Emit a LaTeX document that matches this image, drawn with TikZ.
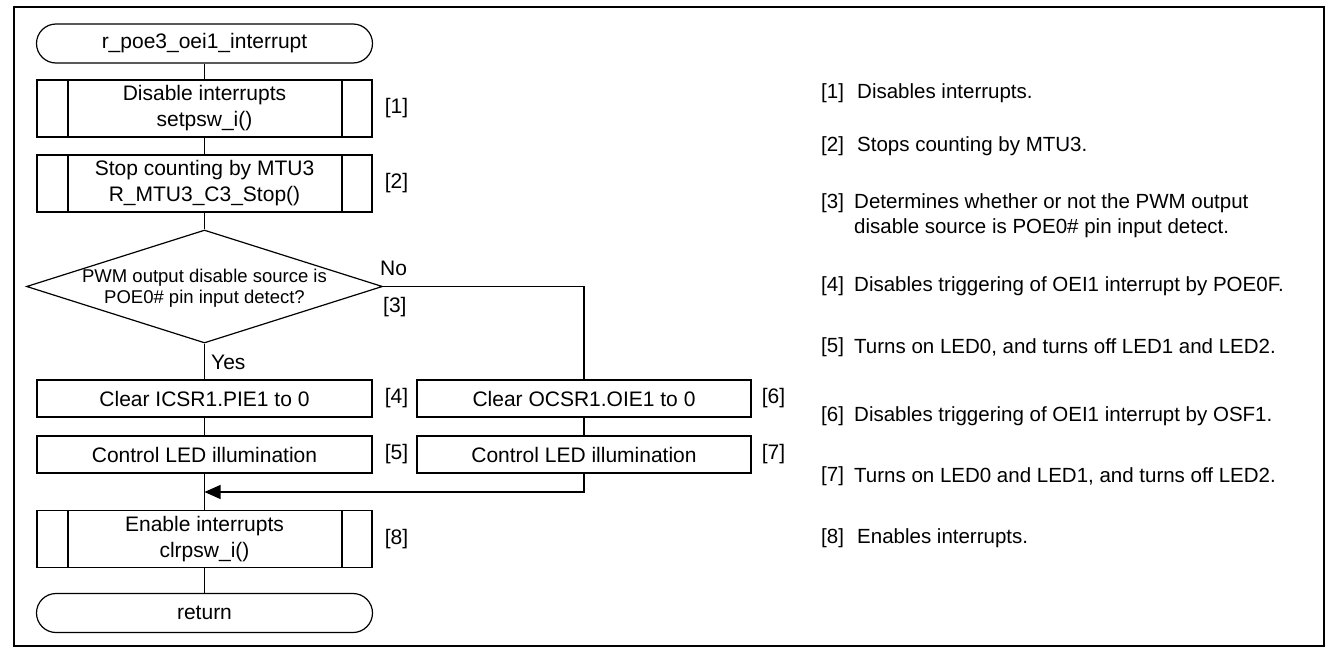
\documentclass[tikz,border=0pt]{standalone}
\usepackage{fontspec}
\setmainfont{Liberation Sans}
\usetikzlibrary{arrows.meta,positioning,shapes.geometric}

\begin{document}
\begin{tikzpicture}[x=1pt,y=-1pt,font=\fontsize{21}{26}\selectfont,
  box/.style={draw,line width=1.2pt,minimum width=335pt,minimum height=37pt,inner sep=0,align=center},
  sub/.style={box,minimum height=57pt,path picture={
      \draw[line width=1.2pt] ([xshift=31pt]path picture bounding box.north west)--([xshift=31pt]path picture bounding box.south west);
      \draw[line width=1.2pt] ([xshift=-30pt]path picture bounding box.north east)--([xshift=-30pt]path picture bounding box.south east);}},
  term/.style={draw,line width=1.2pt,minimum width=336pt,minimum height=39pt,rounded corners=19.5pt,inner sep=0},
  dec/.style={draw,diamond,line width=1.2pt,minimum width=356pt,minimum height=113pt,inner sep=0},
  num/.style={inner sep=0,anchor=west},
  note/.style={inner sep=0,anchor=west,align=left,font=\fontsize{20.5}{25}\selectfont},
  line/.style={line width=1.2pt},
  arr/.style={line,-{Triangle[length=16pt,width=14pt]}}]

\useasboundingbox (0,0) rectangle (1326,648);
\draw[line width=2pt] (14,7) rectangle (1323.5,645.5);

% ---- main column
\node[term] (t0) at (204.5,43.5) {r\_poe3\_oei1\_interrupt};
\node[sub]  (b1) at (204.5,108.5) {Disable interrupts\\setpsw\_i()};
\node[sub]  (b2) at (204.5,183.5) {Stop counting by MTU3\\R\_MTU3\_C3\_Stop()};
\node[dec]  (d3) at (204.5,286.5) {};
\node[font=\fontsize{18.5}{21}\selectfont,align=center] (d3t) at (204.5,288) {PWM output disable source is\\POE0\# pin input detect?};
\node[box]  (b4) at (204.5,398.5) {Clear ICSR1.PIE1 to 0};
\node[box]  (b5) at (204.5,454.5) {Control LED illumination};
\coordinate (mj) at (204.5,492);
\node[sub]  (b8) at (204.5,539) {Enable interrupts\\clrpsw\_i()};
\node[term] (t9) at (204.5,613) {return};

% ---- No branch
\node[box,minimum width=334pt] (b6) at (584,398.5) {Clear OCSR1.OIE1 to 0};
\node[box,minimum width=334pt] (b7) at (584,454.5) {Control LED illumination};

% ---- step numbers
\node[num,right=12pt of b1] (s1) {[1]};
\node[num,right=12pt of b2] (s2) {[2]};
\node[num] (s3) at (383,307) {[3]};
\node[num,right=12pt of b4] (s4) {[4]};
\node[num,right=12pt of b5] (s5) {[5]};
\node[num,right=10pt of b6] (s6) {[6]};
\node[num,right=10pt of b7] (s7) {[7]};
\node[num,right=12pt of b8] (s8) {[8]};
\node[num] (no)  at (380,268) {No};
\node[num] (yes) at (211,362) {Yes};

% ---- connectors
\draw[line] (t0)--(b1);
\draw[line] (b1)--(b2);
\draw[line] (b2)--(d3);
\draw[line] (d3)--(b4);
\draw[line] (b4)--(b5);
\draw[line] (b5)--(b8);
\draw[line] (b8)--(t9);
\draw[line] (d3.east) -| (b6.north);
\draw[line] (b6)--(b7);
\draw[arr] (b7.south) |- (mj);

% ---- notes
\node[note] (k1) at (821,93)  {[1]};
\node[note] (n1) at (857,93)  {Disables interrupts.};
\node[note] (k2) at (821,146) {[2]};
\node[note] (n2) at (857,146) {Stops counting by MTU3.};
\node[note] (k3) at (821,203) {[3]};
\node[note] (n3) at (854,215.5) {Determines whether or not the PWM output\\disable source is POE0\# pin input detect.};
\node[note] (k4) at (821,286) {[4]};
\node[note] (n4) at (854,286) {Disables triggering of OEI1 interrupt by POE0F.};
\node[note] (k5) at (821,347) {[5]};
\node[note] (n5) at (854,347) {Turns on LED0, and turns off LED1 and LED2.};
\node[note] (k6) at (821,416) {[6]};
\node[note] (n6) at (854,416) {Disables triggering of OEI1 interrupt by OSF1.};
\node[note] (k7) at (821,476) {[7]};
\node[note] (n7) at (854,476) {Turns on LED0 and LED1, and turns off LED2.};
\node[note] (k8) at (821,538) {[8]};
\node[note] (n8) at (857,538) {Enables interrupts.};
\end{tikzpicture}
\end{document}
